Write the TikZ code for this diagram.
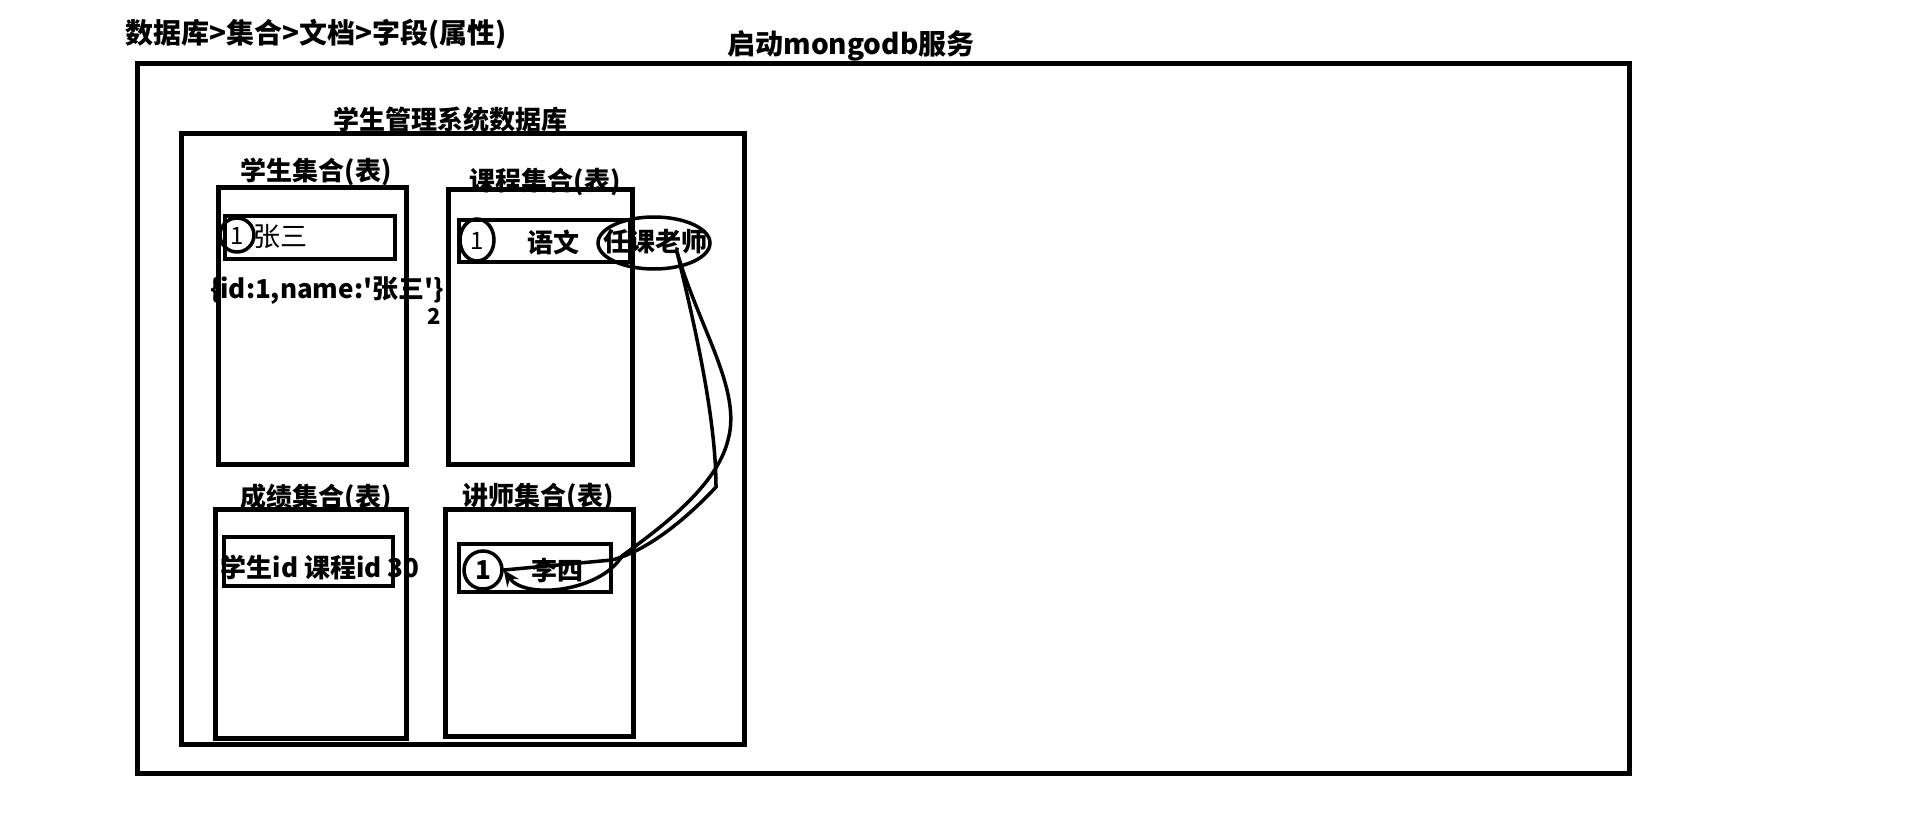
\documentclass[tikz,border=0pt]{standalone}
\usepackage{fontspec}
\setmainfont{Noto Sans CJK SC}
\usetikzlibrary{arrows.meta,calc}
\begin{document}
\begin{tikzpicture}[x=1pt,y=-1pt,
  box/.style={draw,line width=5pt},
  rec/.style={draw,line width=4.5pt},
  lbl/.style={font=\fontsize{26}{28}\selectfont\bfseries,inner sep=0pt},
  big/.style={font=\fontsize{28}{30}\selectfont\bfseries,inner sep=0pt},
  hand/.style={draw,line width=3.5pt},
  ink/.style={line width=3.5pt,line cap=round}]
\useasboundingbox[fill=white] (0,0) rectangle (1913,827);
% boxes
\draw[box] (137,63) rectangle (1629,773);
\draw[box] (181,133) rectangle (744,744);
\draw[box] (218,187) rectangle (406,464);
\draw[box] (448,189) rectangle (632,464);
\draw[box] (215,509) rectangle (406,738);
\draw[box] (445,509) rectangle (633,736);
% records
\draw[rec] (225,216) rectangle (395,259);
\draw[rec] (459,220) rectangle (630,262);
\draw[rec] (224,537) rectangle (393,586);
\draw[rec] (459,544) rectangle (611,592);
% titles
\node[big] (path) at (316,34) {数据库>集合>文档>字段(属性)};
\node[big] (svc) at (851,46) {启动mongodb服务};
\node[lbl] (db) at (450,120) {学生管理系统数据库};
\node[lbl] (cs) at (316,172) {学生集合(表)};
\node[lbl] (cc) at (545,182) {课程集合(表)};
\node[lbl] (cg) at (316,498) {成绩集合(表)};
\node[lbl] (ct) at (538,497) {讲师集合(表)};
% contents
\node[font=\fontsize{26}{28}\selectfont\bfseries,inner sep=0pt] (doc) at (327,291) {\{id:1,name:\textquotesingle 张三\textquotesingle\}};
\node[font=\fontsize{22}{24}\selectfont\bfseries,inner sep=0pt] (two) at (434,316) {2};
\node[lbl] (grec) at (320,567) {学生id 课程id 30};
\node[lbl] (yw) at (553,242) {语文};
\node[lbl] (tch) at (655,242) {任课老师};
\node[lbl] (ls) at (557,571) {李四};
\node[font=\fontsize{27}{29}\selectfont,inner sep=0pt] (zs) at (280,237) {张三};
% circled ids
\node[font=\fontsize{24}{26}\selectfont,inner sep=0pt] (s1) at (237,236) {1};
\draw[hand] (237,235) ellipse [x radius=17, y radius=17];
\node[font=\fontsize{24}{26}\selectfont,inner sep=0pt] (c1) at (477,241) {1};
\draw[hand] (477,240) ellipse [x radius=17, y radius=21];
\node[font=\fontsize{26}{28}\selectfont\bfseries,inner sep=0pt,circle,draw,line width=3.5pt,minimum size=38pt] (t1) at (483,570) {1};
% loop around the teacher field
\draw[hand] (654,243) ellipse [x radius=56, y radius=26];
\coordinate (s) at (677,252);
% connector
\draw[ink,-{Stealth[length=16pt,width=14pt]}] (s) .. controls (700,330) and (742,390) .. (728,440)
  .. controls (716,490) and (650,535) .. (622,556)
  .. controls (600,592) and (525,600) .. (t1.east);
\draw[ink] (s) .. controls (696,330) and (716,420) .. (716,487)
  .. controls (690,515) and (650,550) .. (612,560) -- (t1.east);
\end{tikzpicture}
\end{document}
